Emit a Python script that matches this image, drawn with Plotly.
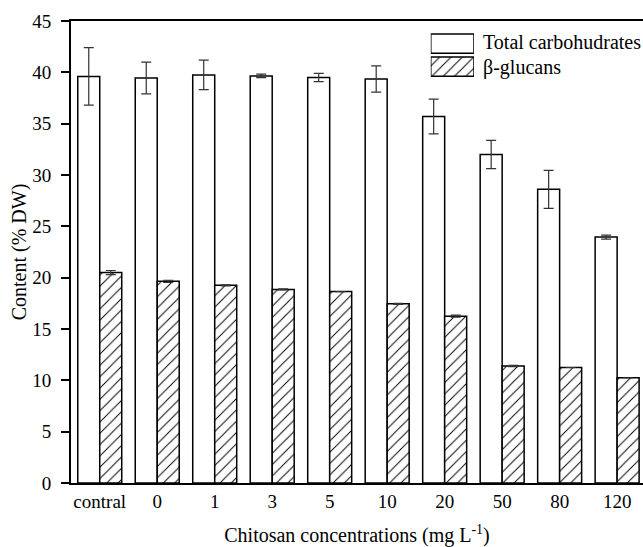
import plotly.graph_objects as go

categories = ["contral", "0", "1", "3", "5", "10", "20", "50", "80", "120"]
total_carbs = [39.6, 39.45, 39.75, 39.65, 39.5, 39.35, 35.7, 32.0, 28.6, 23.95]
total_err = [2.8, 1.55, 1.43, 0.17, 0.4, 1.27, 1.7, 1.37, 1.85, 0.2]
beta_glucans = [20.5, 19.65, 19.25, 18.85, 18.65, 17.45, 16.25, 11.4, 11.25, 10.25]
beta_err = [0.2, 0.1, 0.05, 0.05, 0.0, 0.05, 0.1, 0.07, 0.0, 0.0]
legend_names = ["Total carbohudrates", "β-glucans"]

FONT = "Liberation Serif, Times New Roman, serif"
TICK_SIZE = 19
TITLE_SIZE = 20
hatch = dict(shape="/", fgcolor="black", bgcolor="white", size=8, solidity=0.12, fgopacity=1)

fig = go.Figure()
fig.add_trace(go.Bar(
    x=categories, y=total_carbs, name=legend_names[0],
    marker=dict(color="white", line=dict(color="black", width=1.5)),
    error_y=dict(type="data", array=total_err, color="#333", thickness=1.2, width=5),
    showlegend=False,
))
fig.add_trace(go.Bar(
    x=categories, y=beta_glucans, name=legend_names[1],
    marker=dict(color="white", pattern=hatch, line=dict(color="black", width=1.5)),
    error_y=dict(type="data", array=beta_err, color="#333", thickness=1.2, width=5),
    showlegend=False,
))

# legend swatches drawn as bars on an overlay axis
fig.add_trace(go.Bar(
    y=[legend_names[1]], x=[1], orientation="h", xaxis="x2", yaxis="y2",
    marker=dict(color="white", pattern=hatch, line=dict(color="black", width=1.5)),
    showlegend=False, hoverinfo="skip",
))
fig.add_trace(go.Bar(
    y=[legend_names[0]], x=[1], orientation="h", xaxis="x2", yaxis="y2",
    marker=dict(color="white", line=dict(color="black", width=1.5)),
    showlegend=False, hoverinfo="skip",
))

legend_y = [0.9545, 0.9004]
for name, yy in zip(legend_names, legend_y):
    fig.add_annotation(text=name, x=0.717, y=yy, xref="paper", yref="paper",
                       xanchor="left", yanchor="middle", showarrow=False,
                       font=dict(family=FONT, size=TITLE_SIZE, color="black"))

fig.update_layout(
    width=643, height=547,
    margin=dict(l=71, r=0, t=21, b=64),
    paper_bgcolor="white", plot_bgcolor="white",
    font=dict(family=FONT, size=TICK_SIZE, color="black"),
    barmode="group", bargap=0.235, bargroupgap=0,
    xaxis=dict(
        range=[-0.5, 9.45], showline=True, linecolor="black", linewidth=2,
        mirror=True, ticks="", showgrid=False, zeroline=False,
        tickfont=dict(family=FONT, size=TICK_SIZE),
        title=dict(text="Chitosan concentrations (mg L<sup>-1</sup>)",
                   font=dict(family=FONT, size=TITLE_SIZE), standoff=19),
    ),
    yaxis=dict(
        range=[0, 45], tickvals=[0, 5, 10, 15, 20, 25, 30, 35, 40, 45],
        showline=True, linecolor="black", linewidth=2, ticks="outside",
        ticklen=8, tickwidth=1.5, tickcolor="black", showgrid=False,
        zeroline=False, tickfont=dict(family=FONT, size=TICK_SIZE),
        ticklabelstandoff=6,
        title=dict(text="Content (% DW)", font=dict(family=FONT, size=TITLE_SIZE), standoff=0),
    ),
    xaxis2=dict(domain=[0.629, 0.7045], anchor="y2", range=[0, 1],
                visible=False, fixedrange=True),
    yaxis2=dict(domain=[0.8766, 0.976], anchor="x2",
                categoryorder="array", categoryarray=[legend_names[1], legend_names[0]],
                visible=False, fixedrange=True),
)
fig.update_traces(selector=dict(xaxis="x2"), width=0.84)

fig.write_html(
    "out.html",
    config={"displayModeBar": False},
    post_script="document.body.style.margin='0';document.body.style.overflow='hidden';",
)
